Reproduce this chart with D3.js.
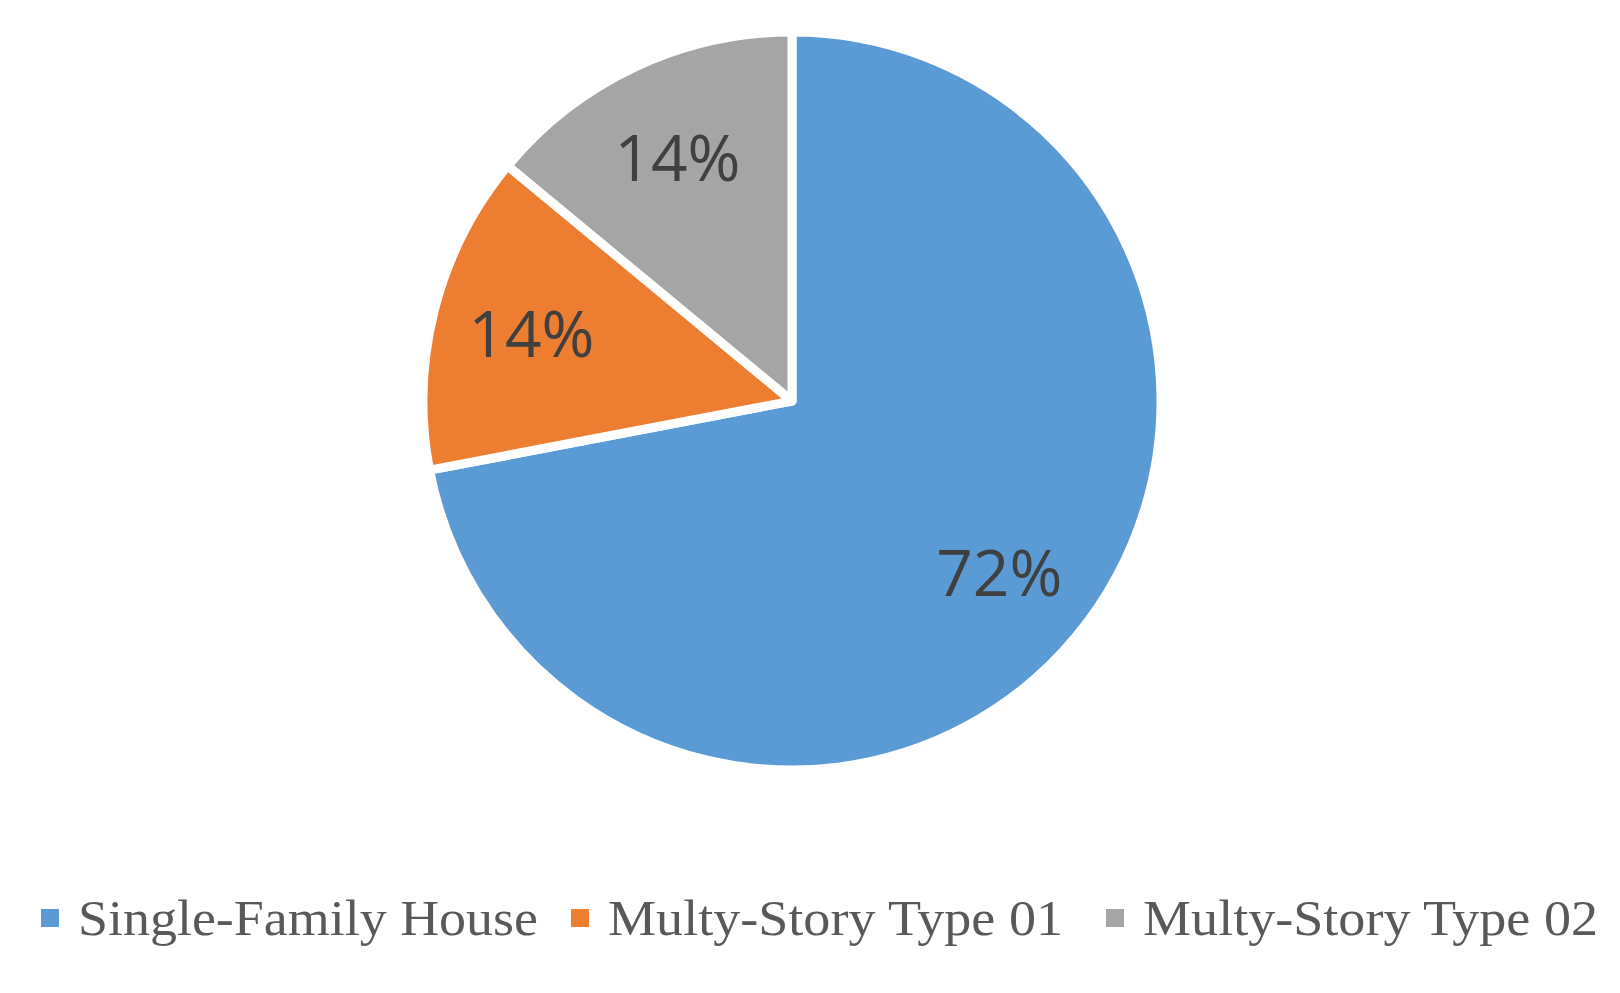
<!DOCTYPE html>
<html><head><meta charset="utf-8">
<script src="https://cdn.jsdelivr.net/npm/d3@7"></script>
<style>body{margin:0;background:#fff}</style></head>
<body><svg id="c" width="1620" height="993"></svg>
<script>
const categories = ["Single-Family House", "Multy-Story Type 01", "Multy-Story Type 02"];
const values = [72, 14, 14];
const colors = ["#5B9BD5", "#ED7D31", "#A5A5A5"];
const legendX = [41, 571, 1106];
const legendW = [460, 455, 455];

const svg = d3.select("#c");
const cx = 792, cy = 401, R = 369;
const pie = d3.pie().sort(null).value(d => d)(values);
const arc = d3.arc().innerRadius(0).outerRadius(R);
const lab = d3.arc().innerRadius(269).outerRadius(269);
const g = svg.append("g").attr("transform", `translate(${cx},${cy})`);
g.selectAll("path").data(pie).join("path")
  .attr("d", arc).attr("fill", (d, i) => colors[i])
  .attr("stroke", "#fff").attr("stroke-width", 9).attr("stroke-linejoin", "round");
g.selectAll("text").data(pie).join("text")
  .attr("transform", d => `translate(${lab.centroid(d)})`)
  .attr("text-anchor", "middle").attr("dy", "0.36em")
  .attr("font-family", "Open Sans, sans-serif").attr("font-size", 64)
  .attr("fill", "#404040").text(d => d.data + "%");
const lg = svg.append("g");
categories.forEach((c, i) => {
  lg.append("rect").attr("x", legendX[i]).attr("y", 909).attr("width", 18).attr("height", 18).attr("fill", colors[i]);
  lg.append("text").attr("x", legendX[i] + 37).attr("y", 935)
    .attr("font-family", "Liberation Serif, serif").attr("font-size", 50)
    .attr("textLength", legendW[i]).attr("lengthAdjust", "spacingAndGlyphs")
    .attr("fill", "#595959").text(c);
});
</script></body></html>
